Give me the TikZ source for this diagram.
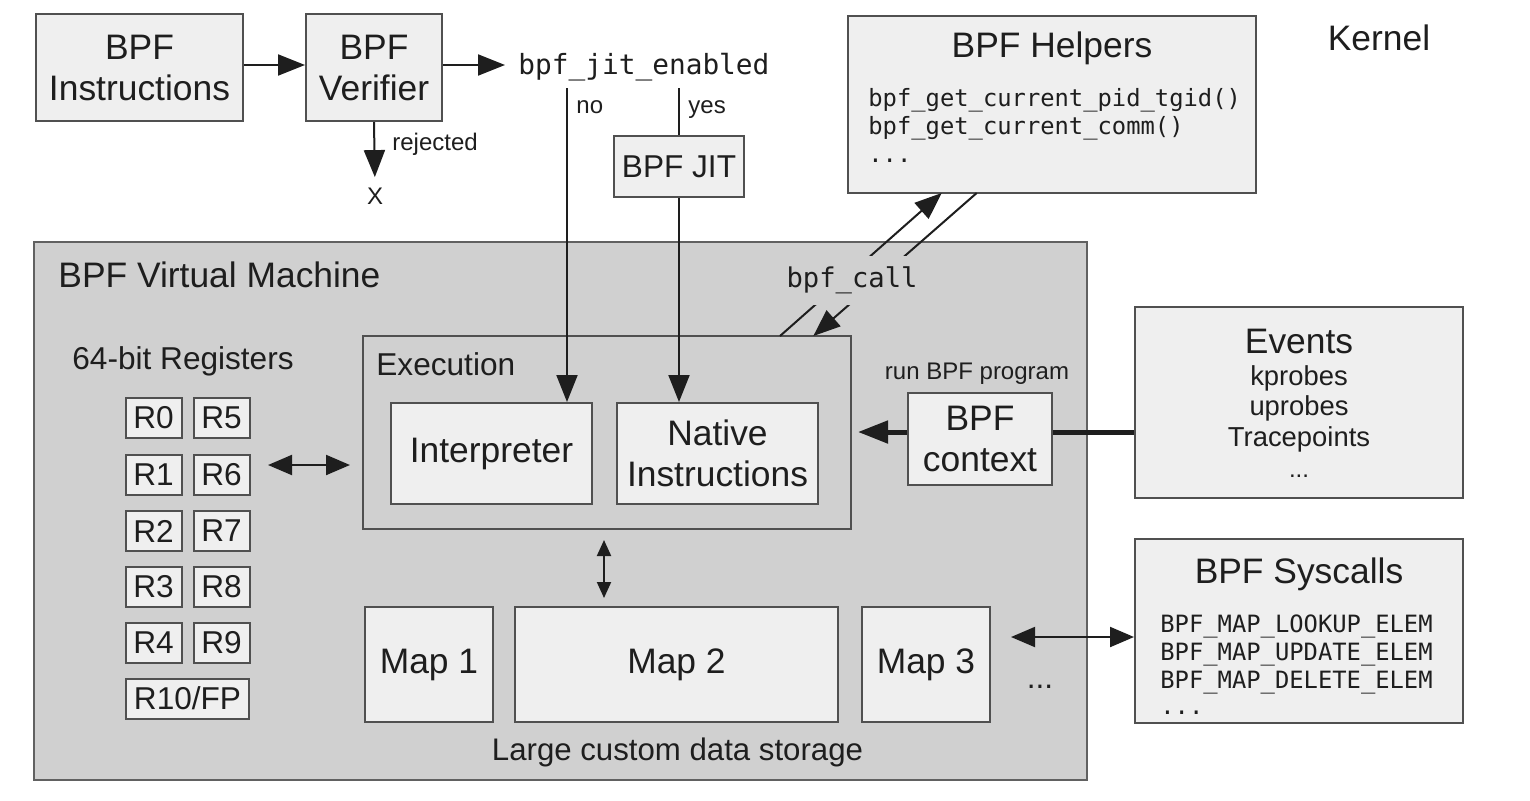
\documentclass[tikz,border=0pt]{standalone}
\usepackage{fontspec}
\setmainfont{Liberation Sans}
\setmonofont{DejaVu Sans Mono}
\usetikzlibrary{arrows.meta,calc}
\definecolor{boxfill}{HTML}{EFEFEF}
\definecolor{vmfill}{HTML}{D0D0D0}
\definecolor{edge}{HTML}{505050}
\definecolor{ink}{HTML}{1E1E1E}
\begin{document}
\begin{tikzpicture}[x=0.5pt,y=-0.5pt,
  box/.style={draw=edge, line width=1pt, fill=boxfill, inner sep=0pt, align=center, text=ink},
  lbl/.style={inner sep=0pt, text=ink},
  big/.style={font=\fontsize{17.7pt}{20.5pt}\selectfont},
  mid/.style={font=\fontsize{15.8pt}{18pt}\selectfont},
  sml/.style={font=\fontsize{12pt}{14pt}\selectfont},
  evfont/.style={font=\fontsize{13.7pt}{15.5pt}\selectfont},
  code/.style={font=\ttfamily\fontsize{11.9pt}{14pt}\selectfont},
  reg/.style={box, mid, minimum width=28pt, minimum height=20pt},
  mapbox/.style={box, big, minimum height=57.5pt},
  arr/.style={-{Triangle[length=13.5pt,width=10.5pt]}, line width=1pt, draw=ink},
  plain/.style={line width=1pt, draw=ink},
  dblarr/.style={{Triangle[length=12pt,width=10pt]}-{Triangle[length=12pt,width=10pt]}, line width=1pt, draw=ink},
  smalldbl/.style={{Triangle[length=8pt,width=7pt]}-{Triangle[length=8pt,width=7pt]}, line width=1pt, draw=ink},
  thickarr/.style={-{Triangle[length=15pt,width=11pt]}, line width=2.5pt, draw=ink}
]
\useasboundingbox (0,0) rectangle (1530,800);
\fill[white] (0,0) rectangle (1530,800);

% top row
\node[box, big, minimum width=103.5pt, minimum height=53.5pt] (ins) at (139.5,67.5) {BPF\\Instructions};
\node[box, big, minimum width=68pt, minimum height=53.5pt] (ver) at (374,67.5) {BPF\\Verifier};
\node[lbl, font=\ttfamily\fontsize{13.9pt}{16pt}\selectfont, anchor=base west] (jit) at (518,74) {bpf\_jit\_enabled};
\node[lbl, sml, anchor=base west] (rejl) at (392,150) {rejected};
\node[lbl, sml, anchor=base] (rejx) at (375,204) {X};
\node[lbl, sml, anchor=base west] (nol) at (576,113) {no};
\node[lbl, sml, anchor=base west] (yesl) at (688,113) {yes};
\node[box, mid, minimum width=65pt, minimum height=30.5pt] (jitbox) at (679,166.5) {BPF JIT};

% helpers
\node[box, minimum width=204pt, minimum height=88.5pt] (helpers) at (1052,104.5) {};
\node[lbl, big, anchor=base] (helpt) at (1052,57.5) {BPF Helpers};
\node[lbl, code, anchor=base west] (h1) at (868,106) {bpf\_get\_current\_pid\_tgid()};
\node[lbl, code, anchor=base west] (h2) at (868,134) {bpf\_get\_current\_comm()};
\node[lbl, code, anchor=base west] (h3) at (868,162) {...};
\node[lbl, big, anchor=base] (kernel) at (1379,50) {Kernel};

% virtual machine
\node[box, fill=vmfill, draw=edge!90, line width=1.2pt, minimum width=526.5pt, minimum height=269pt] (vm) at (560.5,511) {};
\node[lbl, big, anchor=base west] (vmt) at (58,287) {BPF Virtual Machine};

% registers
\node[lbl, mid, anchor=base west] (regt) at (72,369) {64-bit Registers};
\node[reg] (r0) at (153.5,418) {R0};
\node[reg] (r5) at (221.5,418) {R5};
\node[reg] (r1) at (153.5,475) {R1};
\node[reg] (r6) at (221.5,475) {R6};
\node[reg] (r2) at (153.5,531) {R2};
\node[reg] (r7) at (221.5,531) {R7};
\node[reg] (r3) at (153.5,587) {R3};
\node[reg] (r8) at (221.5,587) {R8};
\node[reg] (r4) at (153.5,643) {R4};
\node[reg] (r9) at (221.5,643) {R9};
\node[reg, minimum width=61.5pt] (r10) at (187.5,698.5) {R10/FP};

% execution
\node[box, fill=vmfill, minimum width=244pt, minimum height=96.5pt] (exec) at (607,432.5) {};
\node[lbl, mid, anchor=base west] (exect) at (376,375) {Execution};
\node[box, big, minimum width=100.5pt, minimum height=50.5pt] (interp) at (491.5,453.5) {Interpreter};
\node[box, big, minimum width=100.5pt, minimum height=50.5pt] (native) at (717.5,453.5) {Native\\Instructions};

% maps
\node[mapbox, minimum width=64pt] (map1) at (429,664.5) {Map 1};
\node[mapbox, minimum width=161.5pt] (map2) at (676.5,664.5) {Map 2};
\node[mapbox, minimum width=64pt] (map3) at (926,664.5) {Map 3};
\node[lbl, mid, anchor=base] (mapdots) at (1040,688) {...};
\node[lbl, font=\fontsize{15.6pt}{18pt}\selectfont, anchor=base] (storage) at (677.5,760) {Large custom data storage};

% context
\node[box, big, minimum width=72pt, minimum height=46pt] (ctx) at (980,439) {BPF\\context};
\node[lbl, sml, anchor=base] (runl) at (977,379) {run BPF program};

% events
\node[box, minimum width=164pt, minimum height=95.5pt] (events) at (1299,402.5) {};
\node[lbl, big, anchor=base] (evt) at (1299,353) {Events};
\node[lbl, evfont, anchor=base] (ev1) at (1299,385) {kprobes};
\node[lbl, evfont, anchor=base] (ev2) at (1299,415) {uprobes};
\node[lbl, evfont, anchor=base] (ev3) at (1299,446) {Tracepoints};
\node[lbl, sml, anchor=base] (ev4) at (1299,477) {...};

% syscalls
\node[box, minimum width=164pt, minimum height=92pt] (sys) at (1299,631) {};
\node[lbl, big, anchor=base] (syst) at (1299,583) {BPF Syscalls};
\node[lbl, code, anchor=base west] (s1) at (1160,632) {BPF\_MAP\_LOOKUP\_ELEM};
\node[lbl, code, anchor=base west] (s2) at (1160,660) {BPF\_MAP\_UPDATE\_ELEM};
\node[lbl, code, anchor=base west] (s3) at (1160,688) {BPF\_MAP\_DELETE\_ELEM};
\node[lbl, code, anchor=base west] (s4) at (1160,714) {...};

% helper coordinates
\coordinate (noTop) at (567,88);
\coordinate (yesTop) at (679,88);
\coordinate (callA) at (780,336);
\coordinate (callB) at (941.7,193);
\coordinate (callC) at (976.7,193);
\coordinate (callD) at (813.3,336);
\coordinate (regA) at (268,465);
\coordinate (regB) at (350,465);
\coordinate (stA) at (604,540);
\coordinate (stB) at (604,598);
\coordinate (evy) at (0,432);
\coordinate (sysy) at (0,637);

% connectors
\draw[arr] (ins.east |- 0,65) -- (ver.west |- 0,65);
\draw[arr, shorten >=6.5pt] (ver.east |- 0,65) -- (jit.west |- 0,65);
\draw[arr, shorten >=5pt] (ver.south) -- (rejx.north);
\draw[arr] (noTop) -- (interp.north -| noTop);
\draw[plain] (yesTop) -- (jitbox.north);
\draw[arr] (jitbox.south) -- (jitbox.south |- native.north);
\draw[arr] (callA) -- (callB);
\draw[arr] (callC) -- (callD);
\node[lbl, fill=vmfill, font=\ttfamily\fontsize{13.6pt}{16pt}\selectfont, minimum width=75pt, minimum height=24.5pt] (bpfcall) at (852,280.5) {bpf\_call};
\draw[dblarr] (regA) -- (regB);
\draw[smalldbl] (stA) -- (stB);
\draw[line width=2.5pt, draw=ink] (events.west |- evy) -- (ctx.east |- evy);
\draw[thickarr, shorten >=3pt] (ctx.west |- evy) -- (exec.east |- evy);
\draw[dblarr, shorten <=10pt] (map3.east |- sysy) -- (sys.west |- sysy);
\end{tikzpicture}
\end{document}
